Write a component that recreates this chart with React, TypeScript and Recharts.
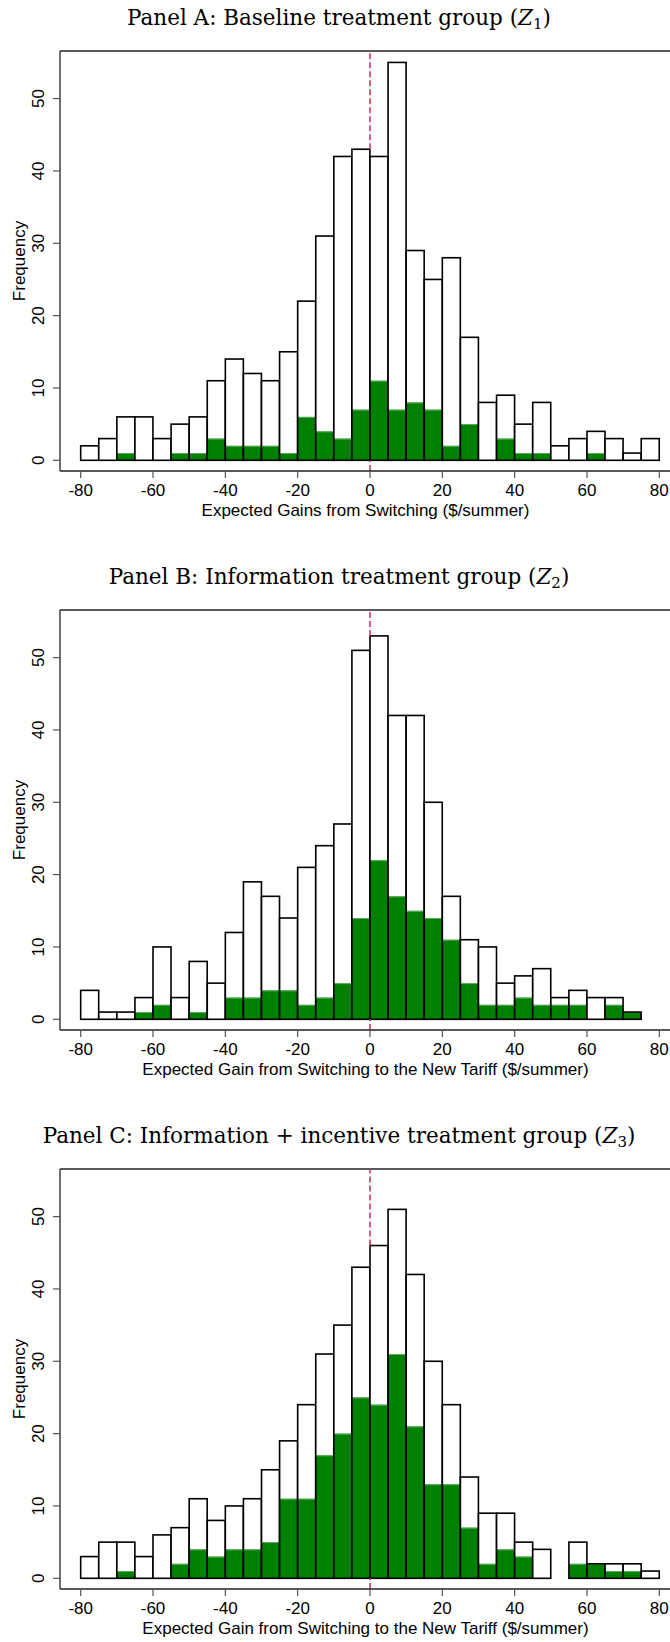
import React from "react";
import { BarChart, Bar, XAxis, YAxis, ReferenceLine } from "recharts";

// bin centres ($/summer), bins are 5 wide from -80 to 80
const binMids = [
  -77.5, -72.5, -67.5, -62.5, -57.5, -52.5, -47.5, -42.5, -37.5, -32.5, -27.5, -22.5, -17.5, -12.5, -7.5, -2.5,
  2.5, 7.5, 12.5, 17.5, 22.5, 27.5, 32.5, 37.5, 42.5, 47.5, 52.5, 57.5, 62.5, 67.5, 72.5, 77.5,
];

const baselineTotal = [2, 3, 6, 6, 3, 5, 6, 11, 14, 12, 11, 15, 22, 31, 42, 43, 42, 55, 29, 25, 28, 17, 8, 9, 5, 8, 2, 3, 4, 3, 1, 3];
const baselineGreen = [0, 0, 1, 0, 0, 1, 1, 3, 2, 2, 2, 1, 6, 4, 3, 7, 11, 7, 8, 7, 2, 5, 0, 3, 1, 1, 0, 0, 1, 0, 0, 0];

const infoTotal = [4, 1, 1, 3, 10, 3, 8, 5, 12, 19, 17, 14, 21, 24, 27, 51, 53, 42, 42, 30, 17, 11, 10, 5, 6, 7, 3, 4, 3, 3, 1, 0];
const infoGreen = [0, 0, 0, 1, 2, 0, 1, 0, 3, 3, 4, 4, 2, 3, 5, 14, 22, 17, 15, 14, 11, 5, 2, 2, 3, 2, 2, 2, 0, 2, 1, 0];

const incentiveTotal = [3, 5, 5, 3, 6, 7, 11, 8, 10, 11, 15, 19, 24, 31, 35, 43, 46, 51, 42, 30, 24, 14, 9, 9, 5, 4, 0, 5, 2, 2, 2, 1];
const incentiveGreen = [0, 0, 1, 0, 0, 2, 4, 3, 4, 4, 5, 11, 11, 17, 20, 25, 24, 31, 21, 13, 13, 7, 2, 4, 3, 0, 0, 2, 2, 1, 1, 0];

const xTicks = [-80, -60, -40, -20, 0, 20, 40, 60, 80];
const yTicks = [0, 10, 20, 30, 40, 50];

const X_DOMAIN: [number, number] = [-85.72, 83.23];
const Y_DOMAIN: [number, number] = [-1.48, 56.58];

const SANS = "'Liberation Sans', Arial, Helvetica, sans-serif";
const SERIF = "'DejaVu Serif', 'Liberation Serif', serif";
const GREEN = "#008000";
const RED = "#d03a5c";

// white bar with black outline, green part drawn inside from the baseline
const HistBar = (props: any) => {
  const { x, y, width, height, payload } = props;
  if (!height || !payload || !payload.total) return null;
  const gh = (height * payload.green) / payload.total;
  return (
    <g>
      <rect x={x} y={y} width={width} height={height} fill="#fff" />
      {gh > 0 && <rect x={x} y={y + height - gh} width={width} height={gh} fill={GREEN} />}
      {gh > 0 && (
        <line x1={x} x2={x + width} y1={y + height - gh + 0.5} y2={y + height - gh + 0.5} stroke="#5fae5f" strokeWidth={1} />
      )}
      <rect x={x} y={y} width={width} height={height} fill="none" stroke="#000" strokeWidth={1.6} />
    </g>
  );
};

const YTick = (props: any) => {
  const { x, y, payload } = props;
  return (
    <text
      x={x}
      y={y}
      transform={`rotate(-90, ${x}, ${y})`}
      textAnchor="middle"
      fontFamily={SANS}
      fontSize={17}
      fill="#000"
    >
      {payload.value}
    </text>
  );
};

const YLabel = (props: any) => {
  const vb = props.viewBox || { x: 0, y: 0, width: 0, height: 0 };
  const cx = vb.x + 24.5;
  const cy = vb.y + vb.height / 2;
  return (
    <text x={cx} y={cy} transform={`rotate(-90, ${cx}, ${cy})`} textAnchor="middle" fontFamily={SANS} fontSize={17} fill="#000">
      Frequency
    </text>
  );
};

const XLabel = (props: any) => {
  const vb = props.viewBox || { x: 0, y: 0, width: 0, height: 0 };
  return (
    <text x={vb.x + vb.width / 2} y={vb.y + 44.5} textAnchor="middle" fontFamily={SANS} fontSize={17} fill="#000">
      {props.text}
    </text>
  );
};

type PanelProps = {
  title: string;
  sub: string;
  xLabel: string;
  total: number[];
  green: number[];
};

function Panel({ title, sub, xLabel, total, green }: PanelProps) {
  const data = binMids.map((mid, i) => ({ mid, total: total[i], green: green[i] }));
  // the dashed zero line shows only above the two bars that meet at 0
  const right = binMids.indexOf(2.5);
  const zeroTop = Math.max(total[right - 1], total[right]);
  return (
    <div style={{ position: "relative", width: 670, height: 559 }}>
      <div style={{ position: "absolute", left: 0, top: 0 }}>
        <BarChart
          width={680}
          height={559}
          data={data}
          margin={{ top: 51, right: 9, bottom: 0, left: 0 }}
          barCategoryGap={0}
          barGap={0}
        >
          <XAxis
            type="number"
            dataKey="mid"
            domain={X_DOMAIN}
            allowDataOverflow
            ticks={xTicks}
            interval={0}
            height={88}
            tickSize={7}
            tickMargin={6}
            axisLine={{ stroke: "#222", strokeWidth: 1.3 }}
            tickLine={{ stroke: "#555", strokeWidth: 1.2 }}
            tick={{ fill: "#000", fontSize: 17, fontFamily: SANS }}
            label={<XLabel text={xLabel} />}
          />
          <YAxis
            type="number"
            domain={Y_DOMAIN}
            allowDataOverflow
            ticks={yTicks}
            interval={0}
            width={60}
            tickSize={7}
            tickMargin={9}
            axisLine={{ stroke: "#222", strokeWidth: 1.3 }}
            tickLine={{ stroke: "#555", strokeWidth: 1.2 }}
            tick={<YTick />}
            label={<YLabel />}
          />
          <ReferenceLine y={Y_DOMAIN[1]} stroke="#222" strokeWidth={1.3} />
          <ReferenceLine
            segment={[
              { x: 0, y: zeroTop },
              { x: 0, y: Y_DOMAIN[1] },
            ]}
            ifOverflow="visible"
            stroke={RED}
            strokeWidth={1.6}
            strokeDasharray="6 3"
          />
          <ReferenceLine
            segment={[
              { x: 0, y: Y_DOMAIN[0] },
              { x: 0, y: 0 },
            ]}
            ifOverflow="visible"
            stroke={RED}
            strokeWidth={1.6}
            strokeDasharray="6 3"
          />
          <Bar dataKey="total" shape={<HistBar />} isAnimationActive={false} />
        </BarChart>
      </div>
      <svg width={670} height={40} style={{ position: "absolute", left: 0, top: 0 }}>
        <text x={339} y={25} textAnchor="middle" fontFamily={SERIF} fontSize={21.5} fill="#000">
          {title} (<tspan fontStyle="italic">Z</tspan>
          <tspan fontSize={15} dy={4}>{sub}</tspan>
          <tspan dy={-4}>)</tspan>
        </text>
      </svg>
    </div>
  );
}

export default function App() {
  return (
    <div
      style={{
        position: "absolute",
        left: 0,
        top: 0,
        width: 670,
        height: 1642,
        overflow: "hidden",
        background: "#fff",
      }}
    >
      <Panel
        title="Panel A: Baseline treatment group"
        sub="1"
        xLabel="Expected Gains from Switching ($/summer)"
        total={baselineTotal}
        green={baselineGreen}
      />
      <Panel
        title="Panel B: Information treatment group"
        sub="2"
        xLabel="Expected Gain from Switching to the New Tariff ($/summer)"
        total={infoTotal}
        green={infoGreen}
      />
      <Panel
        title="Panel C: Information + incentive treatment group"
        sub="3"
        xLabel="Expected Gain from Switching to the New Tariff ($/summer)"
        total={incentiveTotal}
        green={incentiveGreen}
      />
    </div>
  );
}
